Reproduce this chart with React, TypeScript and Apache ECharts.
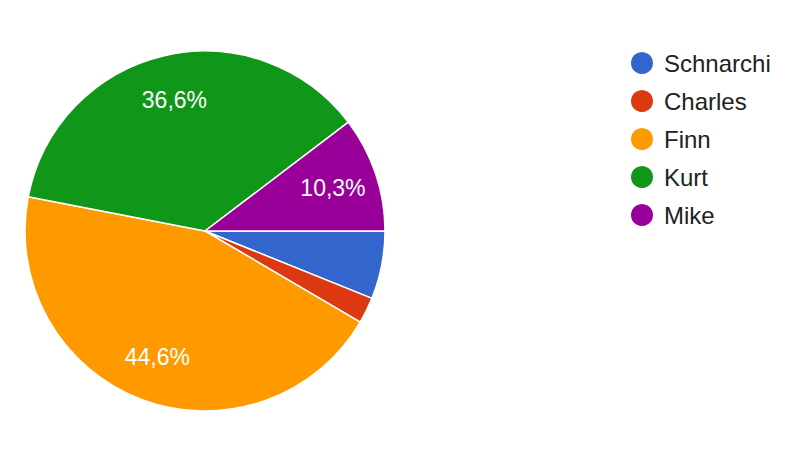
import React, { useEffect, useRef } from "react";
import * as echarts from "echarts";

const names = ["Schnarchi", "Charles", "Finn", "Kurt", "Mike"];
const counts = [13, 5, 95, 78, 22];
const colors = ["#3366cc", "#dc3912", "#ff9900", "#109618", "#990099"];

export default function App() {
  const ref = useRef<HTMLDivElement>(null);
  useEffect(() => {
    if (!ref.current) return;
    const chart = echarts.init(ref.current, null, { renderer: "svg" });
    const total = counts.reduce((a, b) => a + b, 0);
    const data = names.map((n, i) => ({ name: n, value: counts[i], itemStyle: { color: colors[i] } }));
    const font = 'Arial, "Liberation Sans", sans-serif';
    chart.setOption({
      animation: false,
      backgroundColor: "#ffffff",
      textStyle: { fontFamily: font },
      legend: {
        orient: "vertical",
        left: 624,
        top: 45,
        icon: "circle",
        itemWidth: 24,
        itemHeight: 24,
        itemGap: 12,
        selectedMode: false,
        data: names,
        textStyle: { fontSize: 24, color: "#222222", fontFamily: font, padding: [0, 0, 0, 5] },
      },
      series: [
        {
          type: "pie",
          center: [205, 231],
          radius: [0, 180],
          startAngle: 0,
          clockwise: true,
          silent: true,
          label: { show: false },
          labelLine: { show: false },
          itemStyle: { borderColor: "#ffffff", borderWidth: 1.5 },
          data,
        },
        {
          type: "pie",
          center: [205, 231],
          radius: [84, 180],
          startAngle: 0,
          clockwise: true,
          silent: true,
          legendHoverLink: false,
          itemStyle: { color: "rgba(0,0,0,0)", borderWidth: 0 },
          labelLine: { show: false },
          label: {
            show: true,
            position: "inside",
            color: "#ffffff",
            fontSize: 23,
            fontFamily: font,
            formatter: (p: any) => {
              const pct = (p.value / total) * 100;
              return pct < 8 ? "" : pct.toFixed(1).replace(".", ",") + "%";
            },
          },
          data: names.map((n, i) => ({ name: n, value: counts[i] })),
        },
      ],
    });
    return () => chart.dispose();
  }, []);
  return (
    <div
      ref={ref}
      style={{ position: "absolute", left: 0, top: 0, width: 809, height: 458 }}
    />
  );
}
